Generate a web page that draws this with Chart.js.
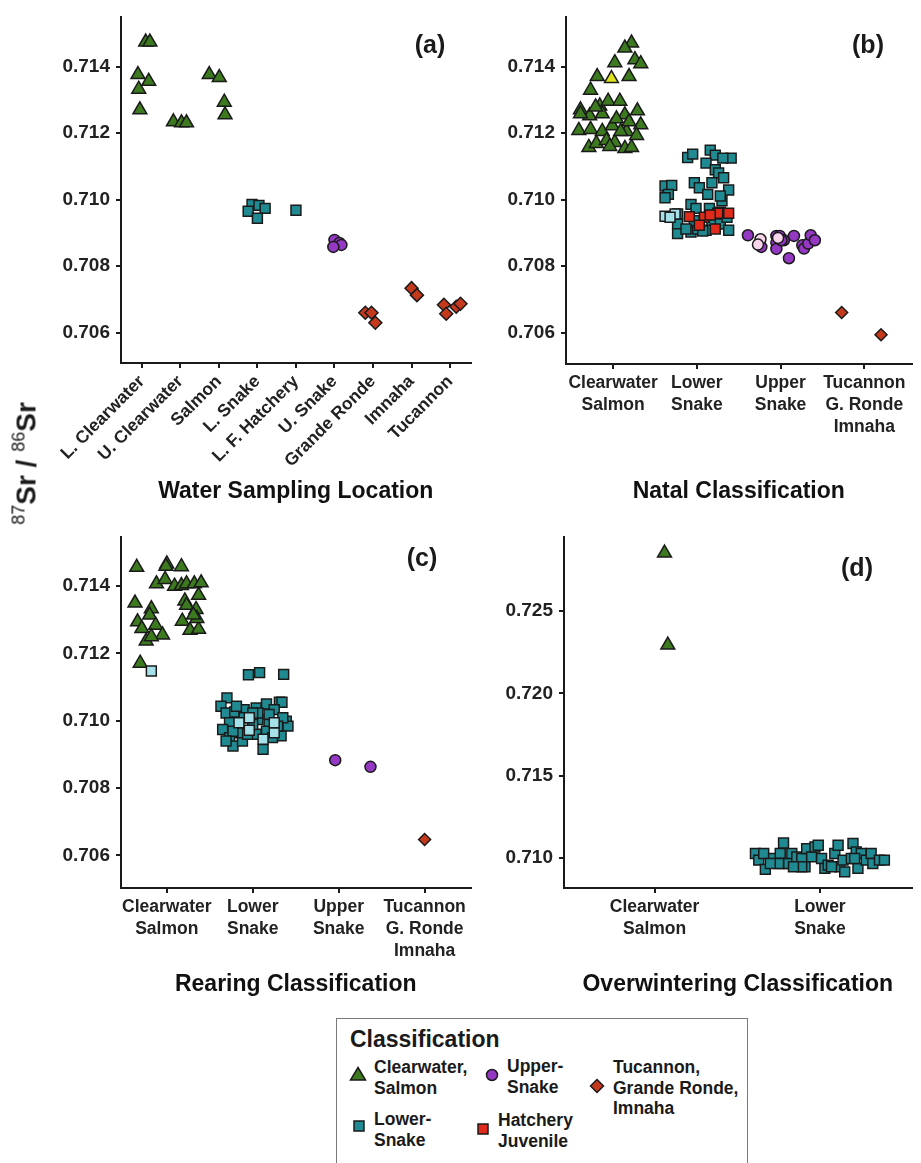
<!DOCTYPE html>
<html>
<head>
<meta charset="utf-8">
<script src="https://cdn.jsdelivr.net/npm/chart.js@4.4.1/dist/chart.umd.min.js"></script>
<style>
  body { margin: 0; width: 921px; height: 1163px; position: relative; overflow: hidden; background: #fff;
         font-family: 'Liberation Sans', Arial, sans-serif; color: #1a1a1a; }
  .panel { position: absolute; }
  .tag { position: absolute; font-weight: bold; font-size: 25px; line-height: 25px; transform: translate(-50%, -50%); }
  .lg { position: absolute; font-weight: bold; font-size: 17.5px; line-height: 20.5px; white-space: nowrap; }
  .mk { position: absolute; }
  #ytitle { position: absolute; left: -72px; top: 447px; width: 200px; text-align: center; font-weight: bold;
            font-size: 28px; line-height: 30px; transform: rotate(-90deg); white-space: nowrap; }
  #ytitle sup { font-size: 18px; font-weight: normal; vertical-align: baseline; position: relative; top: -11px; }
</style>
</head>
<body>
<div class="panel" style="left:0;top:0"><canvas id="chartA" width="480" height="505"></canvas></div>
<div class="panel" style="left:460px;top:0"><canvas id="chartB" width="461" height="505"></canvas></div>
<div class="panel" style="left:0;top:520px"><canvas id="chartC" width="480" height="478"></canvas></div>
<div class="panel" style="left:460px;top:520px"><canvas id="chartD" width="461" height="478"></canvas></div>

<div class="tag" style="left:430px;top:44px">(a)</div>
<div class="tag" style="left:868px;top:44px">(b)</div>
<div class="tag" style="left:422px;top:557px">(c)</div>
<div class="tag" style="left:857px;top:567px">(d)</div>

<div id="ytitle"><sup>87</sup>Sr / <sup>86</sup>Sr</div>

<div style="position:absolute;left:336px;top:1018px;width:410px;height:170px;border:1.5px solid #7a7a7a;"></div>
<div class="lg" style="left:350px;top:1026px;font-size:23px;line-height:26px">Classification</div>
<svg class="mk" style="left:349px;top:1066px" width="18" height="16"><polygon points="9,1.5 16.5,14 1.5,14" fill="#3d7a1f" stroke="#1a1a1a" stroke-width="1.5"/></svg>
<div class="lg" style="left:374px;top:1057px">Clearwater,<br>Salmon</div>
<svg class="mk" style="left:484px;top:1067px" width="16" height="16"><circle cx="8" cy="8" r="5.5" fill="#9538c4" stroke="#1a1a1a" stroke-width="1.5"/></svg>
<div class="lg" style="left:507px;top:1056px">Upper-<br>Snake</div>
<svg class="mk" style="left:589px;top:1078px" width="16" height="16"><polygon points="8,1.5 14.5,8 8,14.5 1.5,8" fill="#c4391b" stroke="#1a1a1a" stroke-width="1.5"/></svg>
<div class="lg" style="left:613px;top:1057px">Tucannon,<br>Grande Ronde,<br>Imnaha</div>
<svg class="mk" style="left:352px;top:1119px" width="14" height="14"><rect x="2" y="2" width="10" height="10" fill="#1f8a91" stroke="#1a1a1a" stroke-width="1.5"/></svg>
<div class="lg" style="left:374px;top:1109px">Lower-<br>Snake</div>
<svg class="mk" style="left:476px;top:1122px" width="14" height="14"><rect x="2" y="2" width="10" height="10" fill="#e02a1a" stroke="#1a1a1a" stroke-width="1.5"/></svg>
<div class="lg" style="left:498px;top:1110px">Hatchery<br>Juvenile</div>

<script>
// tick labels
const waterLabels = ['L. Clearwater', 'U. Clearwater', 'Salmon', 'L. Snake', 'L. F. Hatchery', 'U. Snake', 'Grande Ronde', 'Imnaha', 'Tucannon'];
const classLabels = [['Clearwater', 'Salmon'], ['Lower', 'Snake'], ['Upper', 'Snake'], ['Tucannon', 'G. Ronde', 'Imnaha']];
const overLabels = [['Clearwater', 'Salmon'], ['Lower', 'Snake']];
const ticksABC = [0.706, 0.708, 0.710, 0.712, 0.714];
const ticksD = [0.710, 0.715, 0.720, 0.725];

// (a) water samples: [category position, 87Sr/86Sr]
const waterClear = [[0.90, 0.71376], [1.18, 0.71356], [0.92, 0.71332], [0.95, 0.71270], [1.10, 0.71474], [1.21, 0.71474],
  [1.82, 0.71234], [2.03, 0.71231], [2.16, 0.71231],
  [2.75, 0.71376], [3.01, 0.71367], [3.14, 0.71293], [3.16, 0.71255]];
const waterLower = [[3.86, 0.70986], [4.04, 0.70983], [4.20, 0.70974], [3.76, 0.70965], [4.00, 0.70944], [5.00, 0.70968]];
const waterUpper = [[6.00, 0.70879], [6.13, 0.70870], [6.18, 0.70864], [5.97, 0.70858]];
const waterTuc = [[6.80, 0.70660], [6.96, 0.70660], [7.06, 0.70630], [8.00, 0.70734], [8.14, 0.70713],
  [8.84, 0.70684], [8.90, 0.70657], [9.16, 0.70678], [9.27, 0.70687]];

// (b) natal
const natalClear = [[1.22, 0.71471], [1.14, 0.71456], [1.02, 0.71412], [1.26, 0.71421], [1.33, 0.71409], [0.81, 0.71370],
  [1.19, 0.71370], [0.73, 0.71329], [0.61, 0.71270], [0.72, 0.71252], [0.84, 0.71282], [0.94, 0.71296], [1.08, 0.71296],
  [1.29, 0.71267], [0.59, 0.71208], [0.73, 0.71211], [0.87, 0.71205], [0.99, 0.71222], [1.14, 0.71255], [1.16, 0.71205],
  [1.33, 0.71225], [0.71, 0.71157], [0.80, 0.71169], [0.92, 0.71178], [1.02, 0.71172], [1.14, 0.71154], [1.22, 0.71157],
  [1.28, 0.71193], [1.04, 0.71243], [0.87, 0.71258], [0.61, 0.71258], [0.79, 0.71279], [1.09, 0.71205], [0.96, 0.71160],
  [1.19, 0.71234]];
const natalYellow = [[0.98, 0.71364]];
const natalLower = [[1.89, 0.71127], [1.95, 0.71137], [2.16, 0.71149], [2.22, 0.71134], [2.11, 0.71110], [2.41, 0.71125],
  [2.31, 0.71125], [2.22, 0.71090], [2.26, 0.71080], [2.32, 0.71066], [2.18, 0.71051], [1.97, 0.71051], [2.03, 0.71036],
  [2.13, 0.71016], [2.38, 0.71029], [1.62, 0.71041], [1.70, 0.71043], [1.66, 0.71016], [1.62, 0.71006], [1.93, 0.70986],
  [1.99, 0.70974], [2.15, 0.70974], [2.30, 0.70997], [2.28, 0.71011], [1.77, 0.70957], [1.70, 0.70947], [1.77, 0.70927],
  [1.77, 0.70898], [1.93, 0.70903], [2.01, 0.70912], [2.18, 0.70927], [2.28, 0.70927], [2.38, 0.70908], [2.11, 0.70908],
  [1.97, 0.70937], [2.28, 0.70962], [2.07, 0.70906], [1.87, 0.70912], [2.36, 0.70947]];
const natalLowerLight = [[1.62, 0.70950], [1.74, 0.70957], [1.68, 0.70947]];
const natalHatchery = [[1.91, 0.70949], [2.09, 0.70947], [2.03, 0.70923], [2.25, 0.70959], [2.38, 0.70959], [2.22, 0.70912], [2.16, 0.70954]];
const natalUpper = [[2.61, 0.70893], [2.77, 0.70858], [2.95, 0.70891], [2.99, 0.70891], [2.95, 0.70871], [2.95, 0.70852],
  [3.04, 0.70878], [3.10, 0.70824], [3.16, 0.70891], [3.26, 0.70863], [3.28, 0.70853], [3.33, 0.70868], [3.36, 0.70893],
  [3.41, 0.70878], [3.01, 0.70878]];
const natalUpperLight = [[2.76, 0.70881], [2.73, 0.70865], [2.97, 0.70885]];
const natalTuc = [[3.73, 0.70661], [4.20, 0.70594]];

// (c) rearing
const rearClear = [[0.65, 0.71456], [1.00, 0.71466], [0.99, 0.71459], [1.17, 0.71458], [0.88, 0.71407], [0.98, 0.71420],
  [1.09, 0.71400], [1.17, 0.71402], [1.23, 0.71407], [1.32, 0.71407], [1.40, 0.71410], [0.63, 0.71350], [0.82, 0.71333],
  [0.80, 0.71314], [0.66, 0.71294], [0.71, 0.71274], [0.87, 0.71284], [0.95, 0.71255], [0.76, 0.71237], [0.82, 0.71250],
  [1.21, 0.71356], [1.23, 0.71343], [1.34, 0.71331], [1.37, 0.71373], [1.18, 0.71296], [1.27, 0.71269], [1.37, 0.71272],
  [1.35, 0.71304], [1.31, 0.71314], [0.69, 0.71171]];
const rearLower = [[1.95, 0.71137], [2.08, 0.71143], [2.36, 0.71138], [1.70, 0.71068], [1.63, 0.71043], [1.69, 0.71023],
  [1.79, 0.71026], [1.90, 0.71033], [2.04, 0.71038], [2.16, 0.71050], [2.31, 0.71055], [2.34, 0.71055], [2.25, 0.71033],
  [2.39, 0.70999], [2.41, 0.70984], [2.33, 0.70955], [2.19, 0.70989], [2.06, 0.71004], [1.73, 0.70994], [1.65, 0.70974],
  [1.73, 0.70950], [1.77, 0.70925], [1.88, 0.70940], [1.85, 0.70964], [2.04, 0.70960], [2.12, 0.70915], [2.16, 0.70969],
  [2.00, 0.70989], [1.77, 0.70969], [1.69, 0.70940], [1.90, 0.71009], [2.19, 0.71019], [2.06, 0.71023], [2.35, 0.71009],
  [1.81, 0.71043], [2.00, 0.71023], [2.29, 0.70984], [1.94, 0.70960], [2.23, 0.70950]];
const rearLowerLight = [[0.82, 0.71148], [1.96, 0.71009], [1.84, 0.70994], [1.96, 0.70972], [2.12, 0.70945], [2.25, 0.70994], [2.25, 0.70964]];
const rearUpper = [[2.96, 0.70883], [3.37, 0.70863]];
const rearTuc = [[4.00, 0.70647]];

// (d) overwintering
const overClear = [[1.06, 0.72851], [1.08, 0.72293]];
const overLower = [[1.61, 0.71028], [1.63, 0.70988], [1.66, 0.71028], [1.67, 0.70932], [1.72, 0.70998], [1.76, 0.71028],
  [1.78, 0.71092], [1.77, 0.70968], [1.81, 0.70968], [1.83, 0.71028], [1.86, 0.71008], [1.89, 0.70998], [1.91, 0.70948],
  [1.92, 0.71058], [1.95, 0.71008], [1.97, 0.71068], [1.99, 0.71078], [2.01, 0.70998], [2.03, 0.70938], [2.05, 0.70958],
  [2.09, 0.71028], [2.11, 0.71078], [2.12, 0.70948], [2.14, 0.70988], [2.15, 0.70917], [2.19, 0.70998], [2.20, 0.71089],
  [2.22, 0.71038], [2.23, 0.70938], [2.25, 0.71028], [2.28, 0.70988], [2.31, 0.71028], [2.32, 0.70968], [2.36, 0.70988],
  [2.39, 0.70988], [1.89, 0.70948], [1.84, 0.70948], [1.75, 0.70968], [1.70, 0.70968], [2.07, 0.70948], [2.21, 0.70998]];

const FONT = "'Liberation Sans', Arial, sans-serif";
const INK = '#1a1a1a';

function pts(list) {
    return list.map(p => ({ x: p[0], y: p[1] }));
}

function series(list, style, color, radius) {
    return {
        data: pts(list),
        pointStyle: style,
        pointRadius: radius,
        pointBackgroundColor: color,
        pointBorderColor: INK,
        pointBorderWidth: 1.5,
        showLine: false,
        clip: false
    };
}

function makePanel(id, cfg) {
    const ctx = document.getElementById(id).getContext('2d');
    return new Chart(ctx, {
        type: 'scatter',
        data: { datasets: cfg.datasets },
        options: {
            responsive: false,
            animation: false,
            events: [],
            layout: { padding: { top: cfg.padTop, right: cfg.padRight, left: 0, bottom: 0 } },
            plugins: { legend: { display: false }, tooltip: { enabled: false } },
            scales: {
                x: {
                    type: 'linear',
                    min: cfg.xMin,
                    max: cfg.xMax,
                    afterBuildTicks: s => { s.ticks = cfg.xLabels.map((_, i) => ({ value: i + 1 })); },
                    afterFit: s => { s.height = cfg.xHeight; },
                    grid: { display: true, drawOnChartArea: false, drawTicks: true, tickLength: 5, lineWidth: 2, color: INK },
                    border: { display: true, color: INK, width: 2 },
                    ticks: {
                        autoSkip: false,
                        minRotation: cfg.rotate,
                        maxRotation: cfg.rotate,
                        padding: 3,
                        color: '#222',
                        font: { family: FONT, size: 17.5, weight: 'bold', lineHeight: 1.25 },
                        callback: v => cfg.xLabels[Math.round(v) - 1]
                    },
                    title: {
                        display: true,
                        text: cfg.title,
                        color: '#111',
                        padding: { top: 0, bottom: 0 },
                        font: { family: FONT, size: 23, weight: 'bold', lineHeight: 1.2 }
                    }
                },
                y: {
                    type: 'linear',
                    min: cfg.yMin,
                    max: cfg.yMax,
                    afterBuildTicks: s => { s.ticks = cfg.yTicks.map(v => ({ value: v })); },
                    afterFit: s => { s.width = cfg.yWidth; },
                    grid: { display: true, drawOnChartArea: false, drawTicks: true, tickLength: 5, lineWidth: 2, color: INK },
                    border: { display: true, color: INK, width: 2 },
                    ticks: {
                        padding: 6,
                        color: '#222',
                        font: { family: FONT, size: 19, weight: 'bold' },
                        callback: v => v.toFixed(3)
                    }
                }
            }
        }
    });
}

const GREEN = '#3d7a1f', TEAL = '#1f8a91', LIGHTBLUE = '#a6e1ea', RED = '#e02a1a',
      PURPLE = '#9538c4', PINK = '#f7d5ea', BRICK = '#c4391b', YELLOW = '#dde21a';

makePanel('chartA', {
    xLabels: waterLabels, xMin: 0.46, xMax: 9.53, rotate: 45,
    yTicks: ticksABC, yMin: 0.70509, yMax: 0.71548,
    padTop: 12, padRight: 7, yWidth: 121, xHeight: 142,
    title: 'Water Sampling Location',
    datasets: [
        series(waterClear, 'triangle', GREEN, 8),
        series(waterLower, 'rect', TEAL, 7),
        series(waterUpper, 'circle', PURPLE, 5.5),
        series(waterTuc, 'rectRot', BRICK, 6.5)
    ]
});

makePanel('chartB', {
    xLabels: classLabels, xMin: 0.437, xMax: 4.564, rotate: 0,
    yTicks: ticksABC, yMin: 0.70506, yMax: 0.71548,
    padTop: 12, padRight: 3, yWidth: 106, xHeight: 141,
    title: 'Natal Classification',
    datasets: [
        series(natalYellow, 'triangle', YELLOW, 8),
        series(natalHatchery, 'rect', RED, 7),
        series(natalUpperLight, 'circle', PINK, 5.5),
        series(natalClear, 'triangle', GREEN, 8),
        series(natalLowerLight, 'rect', LIGHTBLUE, 7),
        series(natalLower, 'rect', TEAL, 7),
        series(natalUpper, 'circle', PURPLE, 5.5),
        series(natalTuc, 'rectRot', BRICK, 6)
    ]
});

makePanel('chartC', {
    xLabels: classLabels, xMin: 0.467, xMax: 4.534, rotate: 0,
    yTicks: ticksABC, yMin: 0.70503, yMax: 0.71545,
    padTop: 15, padRight: 8, yWidth: 121, xHeight: 110,
    title: 'Rearing Classification',
    datasets: [
        series(rearLowerLight, 'rect', LIGHTBLUE, 7),
        series(rearClear, 'triangle', GREEN, 8),
        series(rearLower, 'rect', TEAL, 7),
        series(rearUpper, 'circle', PURPLE, 5.5),
        series(rearTuc, 'rectRot', BRICK, 6)
    ]
});

makePanel('chartD', {
    xLabels: overLabels, xMin: 0.452, xMax: 2.554, rotate: 0,
    yTicks: ticksD, yMin: 0.70819, yMax: 0.72946,
    padTop: 15, padRight: 4, yWidth: 104, xHeight: 110,
    title: 'Overwintering Classification',
    datasets: [
        series(overClear, 'triangle', GREEN, 8),
        series(overLower, 'rect', TEAL, 7)
    ]
});
</script>
</body>
</html>
